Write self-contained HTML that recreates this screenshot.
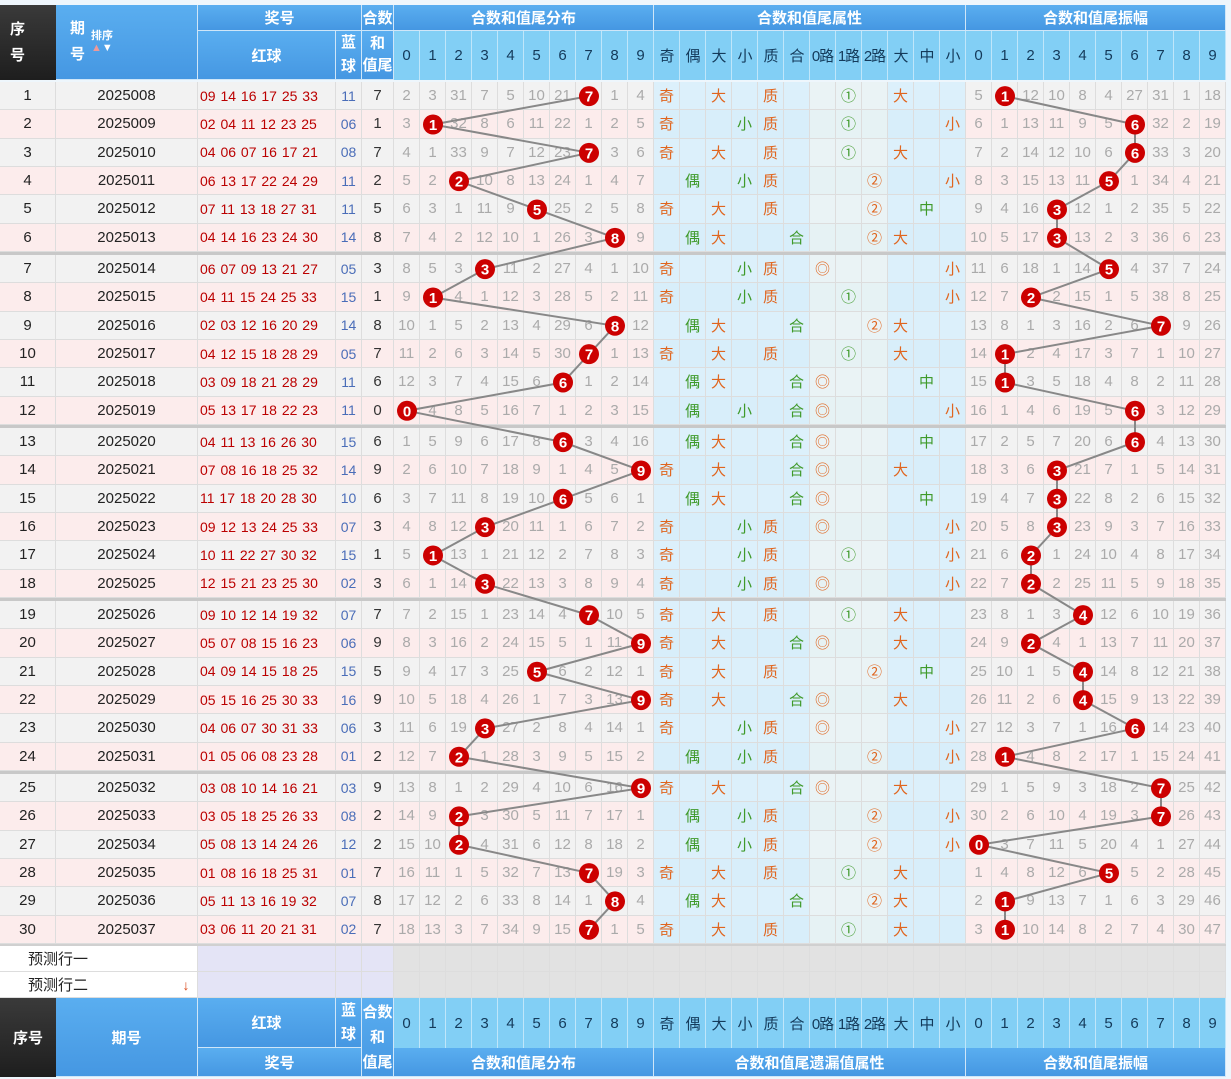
<!DOCTYPE html>
<html><head><meta charset="utf-8"><style>
body{margin:0;width:1231px;height:1079px;overflow:hidden;background:#eef6fc;font-family:"Liberation Sans","Noto Sans CJK SC",sans-serif;}
#c{position:relative;width:1231px;height:1079px;}
.a{position:absolute;box-sizing:border-box;display:flex;align-items:center;justify-content:center;text-align:center;white-space:nowrap;}
.h{background:linear-gradient(#5aaef0,#4597e2);color:#fff;font-weight:bold;font-size:15px;border-right:1px solid #cfe6f8;border-bottom:1px solid #cfe6f8;}
.d{background:linear-gradient(#3a3a3a,#1e1e1e);color:#fff;font-weight:bold;font-size:15px;}
.l{background:#82cff5;color:#143a5a;font-size:15px;border-right:1px solid #bfe6fa;}
.c{font-size:14px;border-right:1px solid #ddd;border-bottom:1px solid #ddd;}
</style></head><body><div id="c"></div>
<svg id="s" width="1231" height="1079" style="position:absolute;left:0;top:0;pointer-events:none"></svg>
<script>
var C=document.getElementById('c'),S=document.getElementById('s');
function box(x,y,w,h,cls,txt,st){var e=document.createElement('div');e.className='a '+cls;e.style.cssText='left:'+x+'px;top:'+y+'px;width:'+w+'px;height:'+h+'px;'+(st||'');e.innerHTML=(txt===undefined?'':txt);C.appendChild(e);return e;}
var red=["09 14 16 17 25 33","02 04 11 12 23 25","04 06 07 16 17 21","06 13 17 22 24 29","07 11 13 18 27 31","04 14 16 23 24 30","06 07 09 13 21 27","04 11 15 24 25 33","02 03 12 16 20 29","04 12 15 18 28 29","03 09 18 21 28 29","05 13 17 18 22 23","04 11 13 16 26 30","07 08 16 18 25 32","11 17 18 20 28 30","09 12 13 24 25 33","10 11 22 27 30 32","12 15 21 23 25 30","09 10 12 14 19 32","05 07 08 15 16 23","04 09 14 15 18 25","05 15 16 25 30 33","04 06 07 30 31 33","01 05 06 08 23 28","03 08 10 14 16 21","03 05 18 25 26 33","05 08 13 14 24 26","01 08 16 18 25 31","05 11 13 16 19 32","03 06 11 20 21 31"];
var blue=["11","06","08","11","11","14","05","15","14","05","11","11","15","14","10","07","15","02","07","06","15","16","06","01","03","08","12","01","07","02"];
var hs=[7,1,7,2,5,8,3,1,8,7,6,0,6,9,6,3,1,3,7,9,5,9,3,2,9,2,2,7,8,7];
var am=[1,6,6,5,3,3,5,2,7,1,1,6,6,3,3,3,2,2,4,2,4,4,6,1,7,7,0,5,1,1];
var pd=[1,2,30,6,4,9,20,0,0,3],pa=[4,0,11,9,7,3,26,30,0,17];
function rowY(i){return 82+i*28.33+Math.floor(i/6)*3;}
var RH=28.33;
box(0,5,56,75,'d','序<br>号','justify-content:flex-start;padding-left:10px;line-height:26px;');
box(56,5,142,75,'h','<span style="line-height:26px;text-align:left">期<br>号</span><span style="font-size:11px;margin-left:6px;line-height:12px;text-align:left">排序<br><span style="color:#e99">▲</span>▼</span>','justify-content:flex-start;padding-left:14px;');
box(198,5,164,26,'h','奖号');box(362,5,32,26,'h','合数');
box(394,5,260,26,'h','合数和值尾分布');box(654,5,312,26,'h','合数和值尾属性');box(966,5,260,26,'h','合数和值尾振幅');
box(198,31,138,49,'h','红球');box(336,31,26,49,'h','蓝<br>球','line-height:24px');box(362,31,32,49,'h','和<br>值尾','line-height:22px');
var at=['奇','偶','大','小','质','合','0路','1路','2路','大','中','小'];
for(var k=0;k<10;k++){box(394+k*26,31,26,49,'l',''+k);box(966+k*26,31,26,49,'l',''+k);}
for(var k=0;k<12;k++)box(654+k*26,31,26,49,'l',at[k],'letter-spacing:-1px');
var O='#e0651e',G='#3f9a2a';
for(var i=0;i<30;i++){
 var y=rowY(i),bg=i%2?'#fcecec':'#f2f2f2';
 box(0,y,56,RH,'c',''+(i+1),'background:'+bg+';color:#222;font-size:15px');
 box(56,y,142,RH,'c',''+(2025008+i),'background:'+bg+';color:#222;font-size:15px');
 box(198,y,138,RH,'c',red[i],'background:'+bg+';color:#b00;font-size:14px;word-spacing:1px;justify-content:flex-start;padding-left:2px');
 box(336,y,26,RH,'c',blue[i],'background:'+bg+';color:#4a6db8;font-size:14px');
 box(362,y,32,RH,'c',''+hs[i],'background:'+bg+';color:#333;font-size:15px');
 var v=hs[i];
 for(var k=0;k<10;k++){pd[k]=(k==v)?0:pd[k]+1;box(394+k*26,y,26,RH,'c',k==v?'':''+pd[k],'background:'+bg+';color:#aaa;font-size:15px');}
 var a=am[i];
 for(var k=0;k<10;k++){pa[k]=(k==a)?0:pa[k]+1;box(966+k*26,y,26,RH,'c',k==a?'':''+pa[k],'background:'+bg+';color:#aaa;font-size:15px');}
 var cells=['','','','','','','','','','','',''];
 if(v%2){cells[0]='<span style="color:'+O+'">奇</span>'}else{cells[1]='<span style="color:'+G+'">偶</span>'}
 if(v>=5)cells[2]='<span style="color:'+O+'">大</span>';else cells[3]='<span style="color:'+G+'">小</span>';
 if([1,2,3,5,7].indexOf(v)>=0)cells[4]='<span style="color:'+O+'">质</span>';else cells[5]='<span style="color:'+G+'">合</span>';
 var m=v%3;cells[6+m]=['<span style="color:'+O+'">◎</span>','<span style="color:'+G+'">①</span>','<span style="color:'+O+'">②</span>'][m];
 if(v>=7)cells[9]='<span style="color:'+O+'">大</span>';else if(v>=4)cells[10]='<span style="color:'+G+'">中</span>';else cells[11]='<span style="color:'+O+'">小</span>';
 for(var k=0;k<12;k++){var b=(k>=6&&k<=8)?(i%2?'#e6f2f4':'#eaf3f5'):(i%2?'#d8eefa':'#dcf0fb');box(654+k*26,y,26,RH,'c',cells[k],'background:'+b+';font-size:15px');}
 if(i%6==5&&i<29)box(0,y+RH,1226,3,'','','background:#c8c8c8');
}
box(0,rowY(29)+RH,1226,3,'','','background:#d0d0d0');
var svg='';
function pts(arr,x0){var p=[];for(var i=0;i<30;i++)p.push([x0+arr[i]*26+13,rowY(i)+RH/2]);return p;}
[pts(hs,394),pts(am,966)].forEach(function(p){
 for(var i=0;i<29;i++)svg+='<line x1="'+p[i][0]+'" y1="'+p[i][1]+'" x2="'+p[i+1][0]+'" y2="'+p[i+1][1]+'" stroke="#888" stroke-width="2"/>';});
[[hs,394],[am,966]].forEach(function(q){var p=pts(q[0],q[1]);for(var i=0;i<30;i++){svg+='<circle cx="'+p[i][0]+'" cy="'+p[i][1]+'" r="10" fill="#cc0000"/><text x="'+p[i][0]+'" y="'+(p[i][1]+5.5)+'" fill="#fff" font-size="15" font-weight="bold" text-anchor="middle" font-family="Liberation Sans">'+q[0][i]+'</text>';}});
S.innerHTML=svg;
var py=946;
for(var r=0;r<2;r++){var y=py+r*26;
 box(0,y,198,26,'c',(r?'预测行二':'预测行一'),'background:#fff;justify-content:flex-start;padding-left:28px;color:#222;font-size:15px');
 box(198,y,138,26,'c','','background:#e4e4f6');box(336,y,26,26,'c','','background:#e4e4f6');box(362,y,32,26,'c','','background:#e4e4f6');
 for(var k=0;k<32;k++)box(394+k*26,y,26,26,'c','','background:#e2e2e2');}
box(178,972,16,26,'','↓','color:#d9481a;font-weight:bold;font-size:14px');
var fy=998;
box(0,fy,56,79,'d','序号');box(56,fy,142,79,'h','期号');
box(198,fy,138,50,'h','红球');box(336,fy,26,50,'h','蓝<br>球','line-height:24px');box(362,fy,32,79,'h','合数<br>和<br>值尾','line-height:25px');
for(var k=0;k<10;k++){box(394+k*26,fy,26,50,'l',''+k);box(966+k*26,fy,26,50,'l',''+k);}
for(var k=0;k<12;k++)box(654+k*26,fy,26,50,'l',at[k],'letter-spacing:-1px');
box(198,1048,164,29,'h','奖号');box(394,1048,260,29,'h','合数和值尾分布');box(654,1048,312,29,'h','合数和值尾遗漏值属性');box(966,1048,260,29,'h','合数和值尾振幅');
</script></body></html>
